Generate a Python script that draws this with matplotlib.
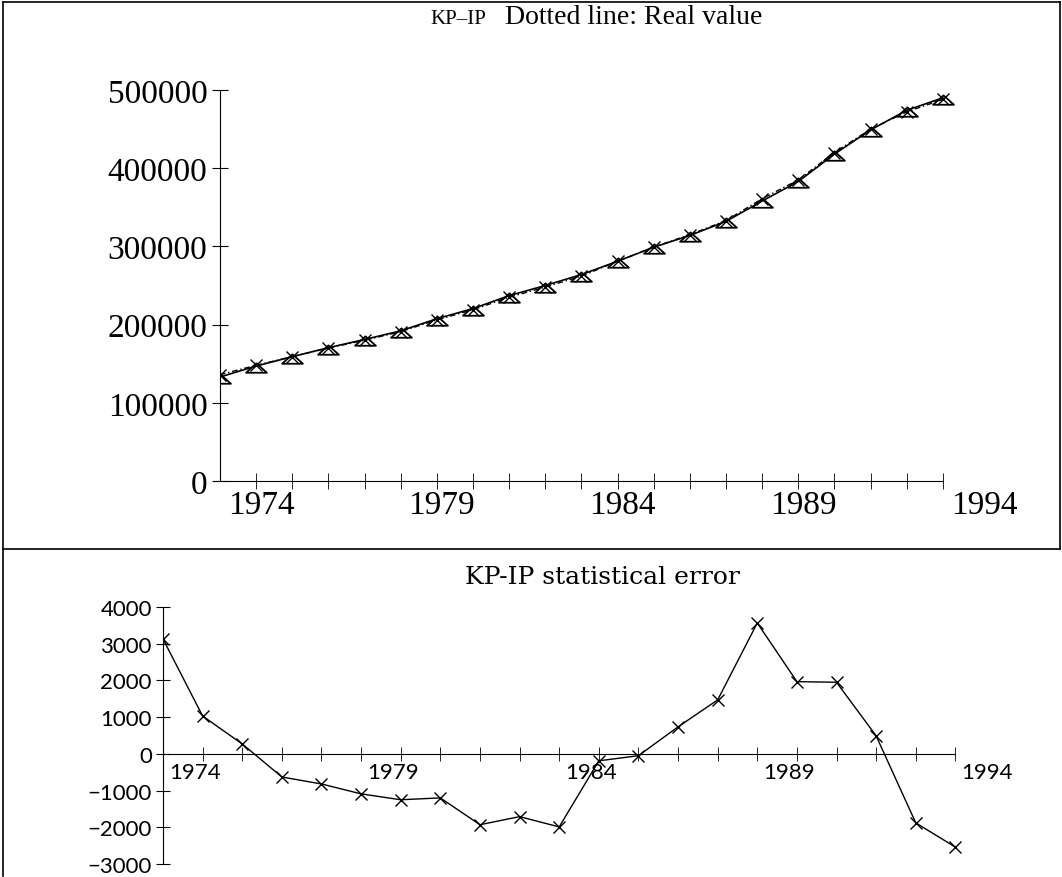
import matplotlib
matplotlib.use("Agg")
import matplotlib.pyplot as plt
import matplotlib.transforms as mtransforms
from matplotlib.path import Path
import numpy as np

# KP-IP series, 1973-1993
years = list(range(1973, 1994))
fitted = [133000, 147000, 159000, 170500, 181000, 192000, 207500, 220500,
          237000, 250000, 264000, 281000, 299000, 314000, 332000, 358000,
          383000, 418000, 449000, 474000, 490000]
real = [136000, 148000, 159000, 170000, 180000, 191000, 206000, 219000,
        235000, 248000, 262000, 281000, 299000, 315000, 333000, 361000,
        385000, 420000, 450000, 472000, 488000]
# statistical error
error = [3130, 1030, 270, -630, -820, -1090, -1250, -1200, -1930, -1710,
         -1990, -190, -50, 735, 1470, 3565, 1967, 1950, 490, -1880, -2540]

label_years = [1974, 1979, 1984, 1989, 1994]
top_yticks = [0, 100000, 200000, 300000, 400000, 500000]
bottom_yticks = [-3000, -2000, -1000, 0, 1000, 2000, 3000, 4000]

W, H = 1062, 878
fig = plt.figure(figsize=(W / 100, H / 100), dpi=100)

# flat triangle with its apex close to the data point
tri = Path([(0, 0.3), (-1.0, -0.6), (1.0, -0.6), (0, 0.3)],
           [Path.MOVETO, Path.LINETO, Path.LINETO, Path.CLOSEPOLY])


def px_axes(x0, x1, y0, y1):
    # axes from pixel box (left, right, top, bottom)
    return fig.add_axes([x0 / W, 1 - y1 / H, (x1 - x0) / W, (y1 - y0) / H])


def style_axis(ax, x_end, ylo, yhi, tick_len, font, size, xshift):
    ax.set_xlim(1973, 1994)
    ax.set_ylim(ylo, yhi)
    for s in ("top", "right"):
        ax.spines[s].set_visible(False)
    ax.spines["bottom"].set_bounds(1973, x_end)
    ax.spines["left"].set_bounds(ylo, yhi)
    ax.set_xticks(label_years)
    ax.set_xticks(years[1:], minor=True)
    ax.xaxis.remove_overlapping_locs = False
    ax.tick_params(axis="x", which="major", length=0, pad=6)
    ax.tick_params(axis="x", which="minor", direction="inout", length=tick_len)
    ax.tick_params(axis="y", direction="inout", length=tick_len, pad=3)
    for lab in ax.get_xticklabels() + ax.get_yticklabels():
        lab.set_fontfamily(font)
        lab.set_fontsize(size)
    off = mtransforms.ScaledTranslation(xshift / 100, 0, fig.dpi_scale_trans)
    for lab in ax.get_xticklabels():
        lab.set_transform(lab.get_transform() + off)


# upper panel: fitted and real values
ax1 = px_axes(220, 979, 91, 482)
ax1.plot(years, fitted, color="black", lw=1.2, marker=tri, ms=15,
         mfc="none", mec="black", mew=1.3, zorder=3)
ax1.plot(years, real, color="black", lw=1.0, ls=(0, (4, 2, 1, 2)),
         marker="x", ms=8, mew=1.0, zorder=4)
ax1.set_yticks(top_yticks)
ax1.set_yticklabels([str(v) for v in top_yticks])
style_axis(ax1, 1993, 0, 500000, 12, ["Liberation Serif"], 24, 5)

fig.text(430 / W, 1 - 19 / H, "KP\u2013IP", fontfamily="Liberation Serif",
         fontsize=15, va="center", ha="left")
fig.text(505 / W, 1 - 18 / H, "Dotted line: Real value",
         fontfamily="Liberation Serif", fontsize=20, va="center", ha="left")

# lower panel: statistical error
ax2 = px_axes(163, 995, 608, 865)
ax2.plot(years, error, color="black", lw=1.0, marker="x", ms=8, mew=1.0)
ax2.spines["bottom"].set_position(("data", 0))
ax2.set_yticks(bottom_yticks)
style_axis(ax2, 1993, -3000, 4000, 10, ["Lato", "DejaVu Sans"], 16, -8)

fig.text(602 / W, 1 - 578 / H, "KP-IP statistical error",
         fontfamily="DejaVu Serif", fontsize=18, va="center", ha="center")

# frame lines around the panels
for line in ([3, 3], [3, H - 1]), ([3, W - 2], [3, 3]), ([W - 2, W - 2], [3, 550]), ([3, W - 2], [550, 550]):
    xs = [v / W for v in line[0]]
    ys = [1 - v / H for v in line[1]]
    fig.add_artist(plt.Line2D(xs, ys, color="black", lw=1.2))

fig.savefig("out.png", dpi=100)
